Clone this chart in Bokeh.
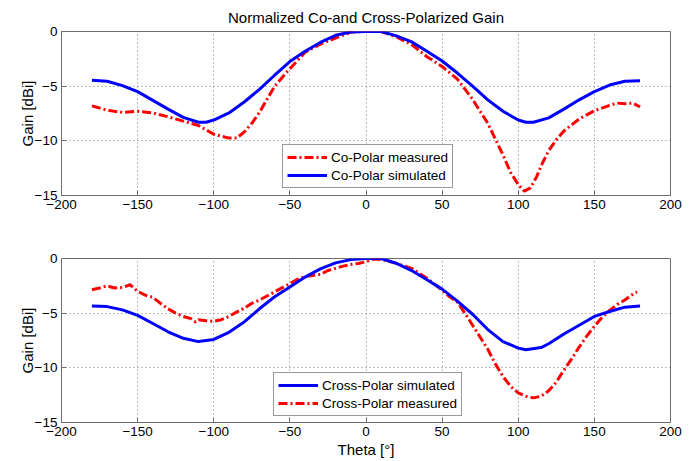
from bokeh.plotting import figure
from bokeh.models import Range1d, Legend, LegendItem, FixedTicker
from bokeh.layouts import column
from bokeh.embed import file_html
from bokeh.resources import INLINE

# ---------------- data ----------------
co_sim_theta = [-180, -170, -160, -150, -140, -130, -120, -110, -105, -100, -90, -80, -70, -60, -50, -40, -30, -20, -10, 0,
                10, 20, 30, 40, 50, 60, 70, 80, 90, 100, 105, 110, 120, 130, 140, 150, 160, 170, 180]
co_sim_gain = [-4.45, -4.55, -4.95, -5.5, -6.3, -7.1, -7.85, -8.3, -8.3, -8.1, -7.45, -6.45, -5.3, -4.0, -2.75, -1.8, -1.0, -0.35, -0.05, 0.0,
               0.0, -0.4, -0.95, -1.8, -2.7, -3.8, -5.0, -6.25, -7.3, -8.1, -8.3, -8.3, -7.9, -7.1, -6.25, -5.5, -4.9, -4.55, -4.5]

co_meas_theta = [-180, -175, -170, -160, -150, -140, -130, -120, -110, -100, -90, -85, -80, -75, -70, -60, -50, -40, -30, -20, -10, 0,
                 10, 20, 30, 40, 50, 60, 70, 80, 90, 95, 100, 104, 108, 112, 116, 120, 125, 130, 140, 150, 160, 165, 170, 175, 180]
co_meas_gain = [-6.8, -7.0, -7.2, -7.4, -7.3, -7.45, -7.8, -8.2, -8.6, -9.4, -9.75, -9.75, -9.2, -8.4, -7.4, -5.0, -3.4, -1.9, -1.15, -0.6, -0.05, 0.0,
                0.0, -0.5, -1.2, -2.3, -3.2, -4.35, -6.2, -8.4, -11.3, -12.9, -14.0, -14.6, -14.3, -13.3, -12.0, -10.9, -9.9, -9.1, -8.0, -7.25, -6.75, -6.55, -6.6, -6.55, -6.9]

x_sim_theta = [-180, -170, -160, -150, -140, -130, -120, -110, -100, -90, -80, -70, -60, -50, -40, -30, -20, -10, 0,
               10, 20, 30, 40, 50, 60, 70, 80, 90, 100, 105, 115, 120, 130, 140, 150, 160, 170, 180]
x_sim_gain = [-4.35, -4.4, -4.7, -5.2, -5.95, -6.7, -7.3, -7.6, -7.4, -6.75, -5.8, -4.6, -3.5, -2.6, -1.7, -0.95, -0.4, -0.1, 0.0,
              0.0, -0.45, -1.1, -1.95, -2.8, -3.9, -5.1, -6.5, -7.6, -8.2, -8.35, -8.15, -7.8, -6.9, -6.1, -5.3, -4.85, -4.45, -4.35]

x_meas_theta = [-180, -175, -170, -165, -160, -155, -150, -145, -140, -135, -130, -125, -120, -115, -112, -110, -105, -100, -95, -90,
                -85, -80, -75, -70, -60, -50, -45, -40, -35, -30, -25, -20, -15, -10, -5, 0, 5, 10, 15, 20, 30, 40, 50, 55, 60,
                65, 70, 75, 80, 85, 90, 95, 100, 105, 110, 115, 120, 125, 130, 135, 140, 145, 150, 155, 160, 165, 170, 175, 178]
x_meas_gain = [-2.85, -2.7, -2.5, -2.7, -2.65, -2.4, -3.0, -3.35, -3.55, -4.1, -4.6, -5.0, -5.3, -5.5, -5.8, -5.6, -5.7, -5.75, -5.6, -5.3,
               -4.9, -4.55, -4.1, -3.8, -3.05, -2.3, -1.9, -1.65, -1.55, -1.45, -1.1, -0.9, -0.7, -0.55, -0.45, -0.3, -0.05, -0.1, -0.25, -0.45, -0.9, -1.8, -2.9, -3.5, -4.0,
               -5.0, -6.1, -7.2, -8.3, -9.65, -10.8, -11.7, -12.3, -12.6, -12.75, -12.6, -12.1, -11.3, -10.2, -9.2, -8.1, -7.1, -6.2, -5.4, -4.75, -4.2, -3.8, -3.3, -3.05]

x_ticks = [-200, -150, -100, -50, 0, 50, 100, 150, 200]
y_ticks = [-15, -10, -5, 0]

FONT = "Liberation Sans"
AX_COL = "#6e6e6e"


def minus(v):
    return str(v).replace("-", "\u2212")


def style(p, show_xlabel):
    p.x_range = Range1d(-200, 200)
    p.y_range = Range1d(-15, 0)
    p.xaxis.ticker = FixedTicker(ticks=x_ticks)
    p.yaxis.ticker = FixedTicker(ticks=y_ticks)
    p.xaxis.major_label_overrides = {t: minus(t) for t in x_ticks}
    p.yaxis.major_label_overrides = {t: minus(t) for t in y_ticks}
    for ax in p.xaxis + p.yaxis:
        ax.major_tick_in = 5
        ax.major_tick_out = 0
        ax.minor_tick_line_color = None
        ax.axis_line_color = AX_COL
        ax.major_tick_line_color = AX_COL
        ax.major_label_text_font = FONT
        ax.major_label_text_font_size = "13.5px"
        ax.major_label_text_color = "black"
        ax.major_label_standoff = 4
        ax.axis_label_text_font = FONT
        ax.axis_label_text_font_size = "15px"
        ax.axis_label_text_font_style = "normal"
        ax.axis_label_text_color = "black"
    p.yaxis.axis_label = "Gain [dBi]"
    p.yaxis.axis_label_standoff = -4
    if show_xlabel:
        p.xaxis.axis_label = "Theta [\u00b0]"
        p.xaxis.axis_label_standoff = 2
    for g in (p.xgrid, p.ygrid):
        g.grid_line_color = "#7a7a7a"
        g.grid_line_dash = "1 3"
        g.grid_line_width = 1
    p.outline_line_color = AX_COL
    p.background_fill_color = "white"
    p.border_fill_color = "white"


# ---------------- top plot ----------------
p1 = figure(width=697, height=228, output_backend="svg", toolbar_location=None,
            min_border_left=61, min_border_right=27, min_border_top=31, min_border_bottom=33)
p1.title.text = "Normalized Co-and Cross-Polarized Gain"
p1.title.text_font = FONT
p1.title.text_font_size = "15px"
p1.title.text_font_style = "normal"
p1.title.align = "center"
p1.title.vertical_align = "middle"
p1.title.text_color = "black"
style(p1, False)
r_cm = p1.line(co_meas_theta, co_meas_gain, line_color="#ff0000", line_width=3, line_dash="9 3 2 3")
r_cs = p1.line(co_sim_theta, co_sim_gain, line_color="#0000ff", line_width=3)
leg1 = Legend(items=[LegendItem(label="Co-Polar measured", renderers=[r_cm]),
                     LegendItem(label="Co-Polar simulated", renderers=[r_cs])],
              location=(221, 7))
p1.add_layout(leg1, "center")

# ---------------- bottom plot ----------------
p2 = figure(width=697, height=233, output_backend="svg", toolbar_location=None,
            min_border_left=61, min_border_right=27, min_border_top=30, min_border_bottom=39)
style(p2, True)
r_xm = p2.line(x_meas_theta, x_meas_gain, line_color="#ff0000", line_width=3, line_dash="9 3 2 3")
r_xs = p2.line(x_sim_theta, x_sim_gain, line_color="#0000ff", line_width=3)
leg2 = Legend(items=[LegendItem(label="Cross-Polar simulated", renderers=[r_xs]),
                     LegendItem(label="Cross-Polar measured", renderers=[r_xm])],
              location=(212, 6))
p2.add_layout(leg2, "center")

for lg in (leg1, leg2):
    lg.label_text_font = FONT
    lg.label_text_font_size = "13.5px"
    lg.label_text_color = "black"
    lg.label_height = 16
    lg.glyph_height = 16
    lg.glyph_width = 40
    lg.spacing = 2
    lg.padding = 4
    lg.margin = 0
    lg.label_standoff = 4
    lg.border_line_color = "#333333"
    lg.background_fill_color = "white"
    lg.background_fill_alpha = 1

layout = column(p1, p2, spacing=0)
open("out.html", "w").write(file_html(layout, INLINE))
